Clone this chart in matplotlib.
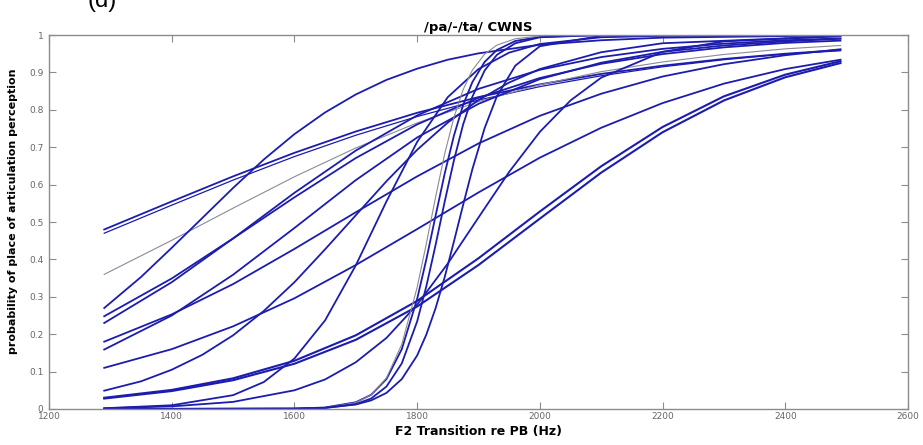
import matplotlib
matplotlib.use("Agg")
import matplotlib.pyplot as plt

# F2 transition (Hz) sample points
x_wide = [1290, 1400, 1500, 1600, 1700, 1800, 1900, 2000, 2100, 2200, 2300, 2400, 2490]
x_c4 = [1290, 1350, 1400, 1450, 1500, 1550, 1600, 1650, 1700, 1750, 1800, 1850, 1900, 2000, 2100, 2200, 2490]
x_c12 = [1290, 1350, 1400, 1450, 1500, 1550, 1600, 1650, 1700, 1750, 1800, 1850, 1900, 1950, 2000, 2100, 2200, 2490]
x_c13 = [1290, 1400, 1500, 1550, 1600, 1650, 1700, 1750, 1800, 1850, 1900, 1950, 2000, 2100, 2200, 2490]
x_c14 = [1290, 1400, 1500, 1600, 1650, 1700, 1750, 1800, 1850, 1900, 1950, 2000, 2050, 2100, 2200, 2300, 2490]
x_steep = [1290, 1600, 1650, 1700, 1725, 1750, 1775, 1800, 1815, 1830, 1845, 1860, 1875, 1890, 1910, 1930, 1960, 2000, 2100, 2490]

# probability of place-of-articulation perception, one list per listener curve
p_c1 = [0.480, 0.555, 0.622, 0.685, 0.742, 0.792, 0.834, 0.868, 0.896, 0.918, 0.936, 0.950, 0.960]
p_c2 = [0.470, 0.545, 0.612, 0.675, 0.732, 0.782, 0.826, 0.862, 0.891, 0.915, 0.934, 0.949, 0.958]
p_c3 = [0.360, 0.451, 0.537, 0.621, 0.698, 0.765, 0.822, 0.867, 0.902, 0.928, 0.948, 0.963, 0.972]
p_c4 = [0.270, 0.353, 0.431, 0.511, 0.591, 0.667, 0.735, 0.793, 0.841, 0.880, 0.910, 0.934, 0.951, 0.974, 0.986, 0.993, 0.999]
p_c5 = [0.248, 0.349, 0.456, 0.566, 0.671, 0.761, 0.832, 0.885, 0.923, 0.949, 0.967, 0.979, 0.985]
p_c6 = [0.230, 0.339, 0.456, 0.578, 0.691, 0.785, 0.856, 0.907, 0.941, 0.963, 0.977, 0.986, 0.991]
p_c7 = [0.180, 0.253, 0.334, 0.428, 0.526, 0.622, 0.710, 0.784, 0.843, 0.889, 0.922, 0.946, 0.962]
p_c8 = [0.159, 0.250, 0.359, 0.484, 0.612, 0.726, 0.816, 0.882, 0.926, 0.955, 0.972, 0.983, 0.990]
p_c9 = [0.110, 0.160, 0.221, 0.296, 0.385, 0.481, 0.579, 0.672, 0.752, 0.818, 0.870, 0.909, 0.934]
p_c10 = [0.030, 0.051, 0.082, 0.129, 0.197, 0.289, 0.403, 0.528, 0.649, 0.754, 0.836, 0.894, 0.930]
p_c11 = [0.028, 0.048, 0.077, 0.121, 0.185, 0.274, 0.385, 0.509, 0.632, 0.740, 0.825, 0.887, 0.925]
p_c12 = [0.049, 0.074, 0.105, 0.145, 0.197, 0.262, 0.339, 0.427, 0.518, 0.609, 0.693, 0.766, 0.826, 0.873, 0.909, 0.954, 0.978, 0.997]
p_c13 = [0.002, 0.010, 0.037, 0.072, 0.135, 0.237, 0.384, 0.555, 0.714, 0.834, 0.909, 0.953, 0.976, 0.994, 0.998, 1.0]
p_c14 = [0.002, 0.007, 0.019, 0.050, 0.079, 0.125, 0.190, 0.279, 0.389, 0.512, 0.634, 0.741, 0.825, 0.886, 0.955, 0.983, 0.997]
p_sa = [0.0, 0.001, 0.004, 0.018, 0.038, 0.080, 0.160, 0.294, 0.400, 0.516, 0.630, 0.731, 0.813, 0.874, 0.928, 0.960, 0.984, 0.995, 1.0, 1.0]
p_sb = [0.0, 0.001, 0.003, 0.017, 0.038, 0.083, 0.173, 0.325, 0.442, 0.566, 0.683, 0.780, 0.854, 0.906, 0.949, 0.973, 0.990, 0.997, 1.0, 1.0]
p_sc = [0.0, 0.001, 0.003, 0.013, 0.028, 0.060, 0.122, 0.234, 0.328, 0.438, 0.555, 0.665, 0.761, 0.835, 0.905, 0.947, 0.978, 0.994, 1.0, 1.0]
p_sd = [0.0, 0.001, 0.003, 0.012, 0.023, 0.043, 0.080, 0.143, 0.199, 0.269, 0.353, 0.448, 0.546, 0.641, 0.751, 0.836, 0.918, 0.970, 0.998, 1.0]

blue = '#1c1cae'
grey = '#8a8a9a'

curves = [
    (x_wide, p_c1, blue, 1.3),
    (x_wide, p_c2, blue, 0.9),
    (x_wide, p_c3, grey, 0.8),
    (x_c4, p_c4, blue, 1.3),
    (x_wide, p_c5, blue, 1.3),
    (x_wide, p_c6, blue, 1.3),
    (x_wide, p_c7, blue, 1.3),
    (x_wide, p_c8, blue, 1.3),
    (x_wide, p_c9, blue, 1.3),
    (x_wide, p_c10, blue, 1.5),
    (x_wide, p_c11, blue, 1.5),
    (x_c12, p_c12, blue, 1.3),
    (x_c13, p_c13, blue, 1.3),
    (x_c14, p_c14, blue, 1.3),
    (x_steep, p_sa, blue, 1.3),
    (x_steep, p_sb, grey, 0.8),
    (x_steep, p_sc, blue, 1.3),
    (x_steep, p_sd, blue, 1.3),
]

fig = plt.figure(figsize=(9.23, 4.45), dpi=100)
ax = fig.add_axes([0.0531, 0.0809, 0.9306, 0.8404])

for xs, ys, c, lw in curves:
    ax.plot(xs, ys, color=c, linewidth=lw, solid_joinstyle='round')

ax.set_xlim(1200, 2600)
ax.set_ylim(0, 1)
ax.set_xticks(range(1200, 2601, 200))
ax.set_yticks([i / 10 for i in range(11)])
ax.set_yticklabels(['0', '0.1', '0.2', '0.3', '0.4', '0.5', '0.6', '0.7', '0.8', '0.9', '1'])

for sp in ax.spines.values():
    sp.set_color('#8c8c8c')
    sp.set_linewidth(1.0)
ax.tick_params(direction='in', top=True, right=True, length=5, width=0.8,
               color='#8c8c8c', labelsize=6.5, labelcolor='#666666', pad=2)
ax.tick_params(axis='y', pad=4)

bold = dict(family='DejaVu Sans', fontweight='bold')
ax.set_title('/pa/-/ta/ CWNS', fontsize=9.5, pad=3, **bold)
ax.set_xlabel('F2 Transition re PB (Hz)', fontsize=9, labelpad=3, **bold)
ax.set_ylabel('probability of place of articulation perception', fontsize=8,
              labelpad=4, **bold)
ax.yaxis.set_label_coords(-0.036, 0.53)

fig.text(0.095, 0.972, '(d)', fontsize=17, family=['Liberation Sans', 'DejaVu Sans'],
         ha='left', va='bottom')

fig.savefig('out.png', dpi=100)
